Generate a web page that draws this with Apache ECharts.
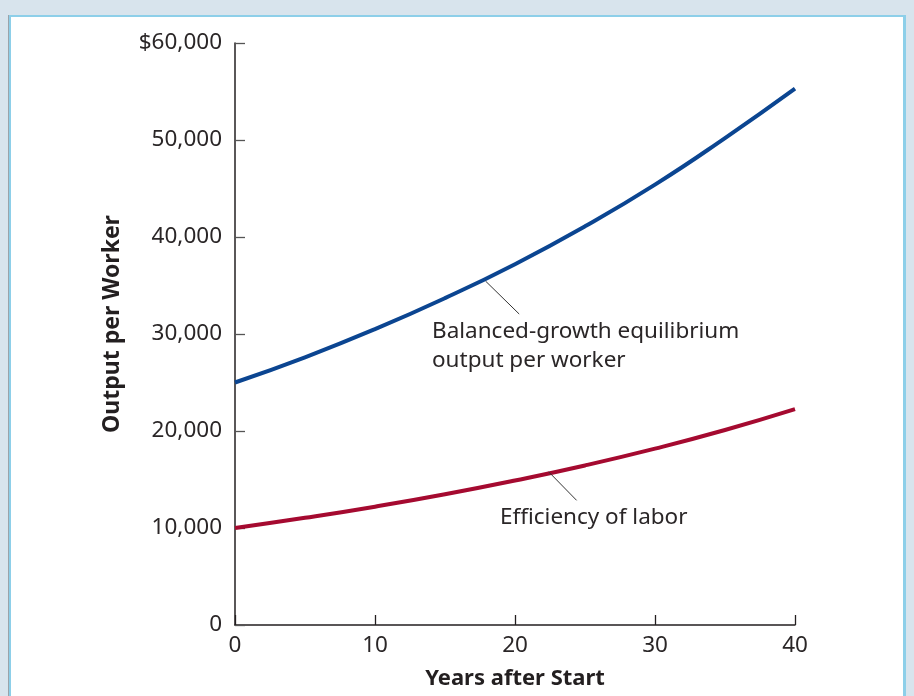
<!DOCTYPE html>
<html><head><meta charset="utf-8">
<script src="https://cdn.jsdelivr.net/npm/echarts@6/dist/echarts.min.js"></script>
<style>
html,body{margin:0;padding:0;background:#d8e4ed;width:914px;height:696px;overflow:hidden;}
#panel{position:absolute;left:9px;top:15px;width:892px;height:700px;background:#fff;border:2px solid #8dcfe9;border-right-width:3px;box-shadow:-1px 0 0 #9aa3aa;}
#chart{position:absolute;left:0;top:0;width:914px;height:696px;}
</style></head>
<body>
<div id="panel"></div>
<div id="chart"></div>
<script>
const years = [0, 5, 10, 15, 20, 25, 30, 35, 40];
const balancedOutput = [25000, 27600, 30500, 33700, 37200, 41100, 45400, 50200, 55300];
const efficiency = [10000, 11050, 12200, 13480, 14900, 16450, 18180, 20100, 22250];
const yTicks = [0, 10000, 20000, 30000, 40000, 50000, 60000];
const xTicks = [0, 10, 20, 30, 40];
const labelBalanced = ['Balanced-growth equilibrium', 'output per worker'];
const labelEfficiency = 'Efficiency of labor';

const font = '"Noto Sans", "Open Sans", sans-serif';
const chart = echarts.init(document.getElementById('chart'), null, {renderer: 'canvas'});
function fmtY(v) {
  const s = v.toLocaleString('en-US');
  return v === 60000 ? '$' + s : s;
}
chart.setOption({
  backgroundColor: 'transparent',
  animation: false,
  grid: {left: 235, right: 119, top: 43, bottom: 71, containLabel: false},
  xAxis: {
    type: 'value', min: 0, max: 40, interval: 10,
    name: 'Years after Start', nameLocation: 'middle', nameGap: 43,
    nameTextStyle: {fontFamily: font, fontSize: 22, fontWeight: 'bold', color: '#231f20'},
    axisLine: {lineStyle: {color: '#231f20', width: 1.5}},
    axisTick: {inside: true, length: 10, lineStyle: {color: '#231f20', width: 1.3}},
    axisLabel: {fontFamily: font, fontSize: 22.5, color: '#2a2627', margin: 9},
    splitLine: {show: false}
  },
  yAxis: {
    type: 'value', min: 0, max: 60000, interval: 10000,
    name: 'Output per Worker', nameLocation: 'middle', nameGap: 111,
    nameTextStyle: {fontFamily: font, fontSize: 23, fontWeight: 'bold', color: '#231f20', padding: [0, 0, 0, 20]},
    axisLine: {show: true, lineStyle: {color: '#231f20', width: 1.5}},
    axisTick: {show: true, inside: true, length: 10, lineStyle: {color: '#555', width: 1.3}},
    axisLabel: {fontFamily: font, fontSize: 22.5, color: '#2a2627', margin: 13, formatter: fmtY},
    splitLine: {show: false}
  },
  series: [
    {
      type: 'line', smooth: true, showSymbol: false,
      data: years.map((y, i) => [y, balancedOutput[i]]),
      lineStyle: {color: '#0b4591', width: 4},
      markLine: {
        silent: true, symbol: ['none', 'none'], label: {show: false},
        lineStyle: {color: '#333', width: 1, type: 'solid'},
        data: [[{coord: [17.9, 35450]}, {coord: [20.3, 32060]}]]
      }
    },
    {
      type: 'line', smooth: true, showSymbol: false,
      data: years.map((y, i) => [y, efficiency[i]]),
      lineStyle: {color: '#a50a30', width: 4},
      markLine: {
        silent: true, symbol: ['none', 'none'], label: {show: false},
        lineStyle: {color: '#333', width: 1, type: 'solid'},
        data: [[{coord: [22.4, 15800]}, {coord: [24.4, 12850]}]]
      }
    }
  ],
  graphic: [
    {type: 'text', left: 432, top: 317, style: {text: labelBalanced.join('\n'), fontFamily: font, fontSize: 22.5, lineHeight: 29, fill: '#2a2627'}},
    {type: 'text', left: 500, top: 506, style: {text: labelEfficiency, fontFamily: font, fontSize: 22.5, fill: '#2a2627'}}
  ]
});
</script>
</body></html>
